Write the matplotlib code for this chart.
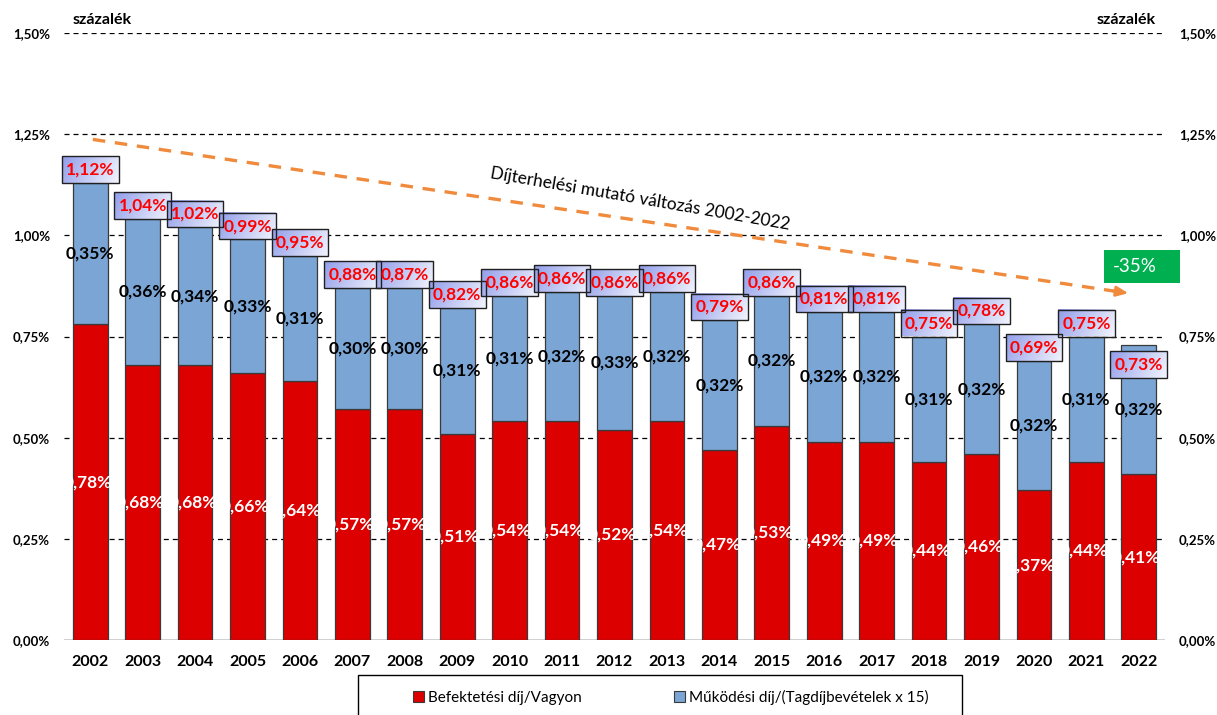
import numpy as np
import matplotlib
matplotlib.use('Agg')
import matplotlib.pyplot as plt
from matplotlib.patches import Rectangle
from matplotlib.colors import LinearSegmentedColormap

# ---------------- data ----------------
years = [str(y) for y in range(2002, 2023)]
befektetesi = [0.78, 0.68, 0.68, 0.66, 0.64, 0.57, 0.57, 0.51, 0.54, 0.54, 0.52,
               0.54, 0.47, 0.53, 0.49, 0.49, 0.44, 0.46, 0.37, 0.44, 0.41]
mukodesi = [0.35, 0.36, 0.34, 0.33, 0.31, 0.30, 0.30, 0.31, 0.31, 0.32, 0.33,
            0.32, 0.32, 0.32, 0.32, 0.32, 0.31, 0.32, 0.32, 0.31, 0.32]
osszes = [1.12, 1.04, 1.02, 0.99, 0.95, 0.88, 0.87, 0.82, 0.86, 0.86, 0.86,
          0.86, 0.79, 0.86, 0.81, 0.81, 0.75, 0.78, 0.69, 0.75, 0.73]
y_ticks = [0, 0.25, 0.50, 0.75, 1.00, 1.25, 1.50]
y_tick_labels = ['0,00%', '0,25%', '0,50%', '0,75%', '1,00%', '1,25%', '1,50%']
series_names = ['Befektetési díj/Vagyon', 'Működési díj/(Tagdíjbevételek x 15)']
unit_label = 'százalék'
trend_label = 'Díjterhelési mutató változás 2002-2022'
trend_change = '-35%'
trend_start = (0.05, 1.237)
trend_end = (19.8, 0.857)
# manual label nudges (index -> shift of total-label box, in % units)
label_nudge = {20: -0.083}

# ---------------- style ----------------
RED = '#dc0000'
BLUE = '#7aa5d5'
EDGE = '#3a3a3a'
ORANGE = '#f08a3c'
GREEN = '#00b050'
plt.rcParams['font.family'] = ['Lato', 'DejaVu Sans']
plt.rcParams['lines.scale_dashes'] = False

def fmt(v):
    return f"{v:.2f}".replace('.', ',') + '%'

fig = plt.figure(figsize=(12.17, 7.15), dpi=100)
ax = fig.add_axes([64/1217, 1-640/715, (1165-64)/1217, (640-33)/715])

x = np.arange(len(years))
bw = 0.66
red = np.array(befektetesi)
blue = np.array(mukodesi)

# gridlines
for t in y_ticks[1:]:
    ax.axhline(t, color='black', lw=0.9, ls=(0, (3.6, 2.9)), zorder=0)
ax.axhline(0, color='#c8c8c8', lw=1.2, zorder=0.5)

ax.bar(x, red, bw, color=RED, edgecolor=EDGE, lw=0.9, zorder=2)
ax.bar(x, blue, bw, bottom=red, color=BLUE, edgecolor=EDGE, lw=0.9, zorder=2)

# inner labels
for i in range(len(x)):
    ax.text(x[i] - 0.05, red[i] / 2, fmt(red[i]), ha='center', va='center',
            color='white', fontsize=12.5, fontweight='bold', zorder=3)
    ax.text(x[i], red[i] + blue[i] / 2, fmt(blue[i]), ha='center', va='center',
            color='black', fontsize=12.5, fontweight='bold', zorder=3)

# total label boxes with gradient
cmap = LinearSegmentedColormap.from_list('g', ['#929eea', '#f2f4fd'])
gx = np.linspace(0, 1, 64)
gy = np.linspace(0, 1, 16)
grad = 0.8 * gx[None, :] + 0.2 * gy[:, None]
box_w = 1.08
box_h = 0.066
for i in range(len(x)):
    top = red[i] + blue[i]
    y0 = top + 0.0 + label_nudge.get(i, 0)
    im = ax.imshow(grad, cmap=cmap, extent=[x[i] - box_w/2, x[i] + box_w/2, y0, y0 + box_h],
                   aspect='auto', origin='upper', zorder=4, interpolation='bilinear')
    im.set_clip_on(False)
    ax.add_patch(Rectangle((x[i] - box_w/2, y0), box_w, box_h, fill=False,
                           edgecolor='#202020', lw=1.0, zorder=4.5, clip_on=False))
    ax.text(x[i], y0 + box_h/2, fmt(osszes[i]), ha='center', va='center',
            color='#ff0000', fontsize=12.5, fontweight='bold', zorder=5)

# trend arrow
ax.plot([trend_start[0], trend_end[0] - 0.25], [trend_start[1], trend_end[1] + 0.0048],
        color=ORANGE, lw=2.4, ls=(0, (9, 7)), zorder=6, solid_capstyle='butt')
ax.annotate('', xy=trend_end, xytext=(trend_end[0] - 0.3, trend_end[1] + 0.0058),
            arrowprops=dict(arrowstyle='-|>,head_length=0.7,head_width=0.3',
                            color=ORANGE, lw=2.0, shrinkA=0, shrinkB=0), zorder=6)
ax.text(10.49, 1.091, trend_label, rotation=-9.8, rotation_mode='anchor',
        ha='center', va='center', fontsize=12.5, color='black', zorder=6)

ax.set_xlim(-0.5, len(x) - 0.5)
ax.set_ylim(0, 1.5)
ax.set_xticks(x)
ax.set_xticklabels(years, fontsize=11.5, fontweight='bold')
ax.set_yticks(y_ticks)
ax.set_yticklabels(y_tick_labels, fontsize=9.5, fontweight='bold')
ax.tick_params(axis='x', length=0, pad=11)
ax.tick_params(axis='y', length=0, pad=10)
for s in ax.spines.values():
    s.set_visible(False)

ax2 = ax.twinx()
ax2.set_ylim(0, 1.5)
ax2.set_yticks(y_ticks)
ax2.set_yticklabels(y_tick_labels, fontsize=9.5, fontweight='bold')
ax2.tick_params(axis='y', length=0, pad=10)
for s in ax2.spines.values():
    s.set_visible(False)

# unit labels
fig.text(73/1217, 1-20/715, unit_label, ha='left', va='center', fontsize=11.5, fontweight='bold')
fig.text(1156/1217, 1-20/715, unit_label, ha='right', va='center', fontsize=11.5, fontweight='bold')

# green change box
fig.patches.append(Rectangle((1104/1217, 1-283/715), 76/1217, 33/715, transform=fig.transFigure,
                             facecolor=GREEN, edgecolor='none', zorder=7))
fig.text(1135/1217, 1-267/715, trend_change, ha='center', va='center', fontsize=13.5,
         color='white', zorder=8)

# legend
fig.patches.append(Rectangle((358/1217, -0.02), (962-358)/1217, 0.02 + 1-675/715,
                             transform=fig.transFigure, facecolor='white',
                             edgecolor='black', lw=1.0))
handles = [Rectangle((0, 0), 1, 1, facecolor=RED, edgecolor=EDGE, lw=0.8),
           Rectangle((0, 0), 1, 1, facecolor=BLUE, edgecolor=EDGE, lw=0.8)]
fig.legend(handles, series_names, loc='center', bbox_to_anchor=(671/1217, 1-697/715),
           ncol=2, frameon=False, fontsize=11, handlelength=0.7, handleheight=0.7,
           handletextpad=0.3, columnspacing=6.0)

fig.savefig('out.png', dpi=100)
